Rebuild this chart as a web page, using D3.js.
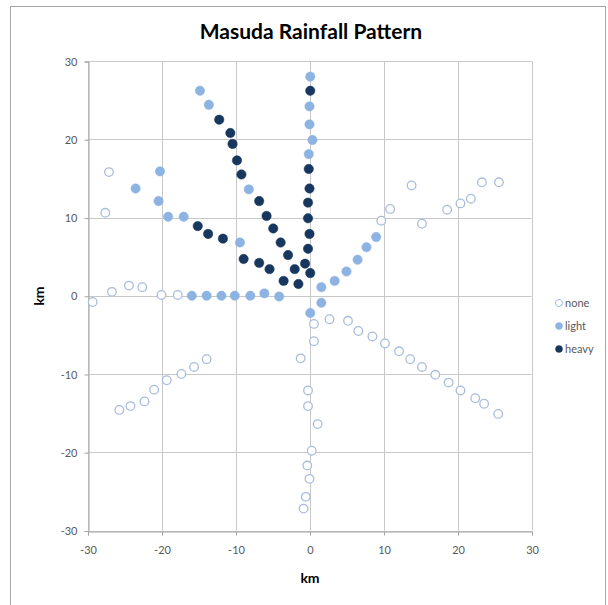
<!DOCTYPE html>
<html>
<head>
<meta charset="utf-8">
<script src="https://cdn.jsdelivr.net/npm/d3@7"></script>
<style>
  html, body { margin: 0; padding: 0; background: #fff; }
  svg { display: block; }
  text { font-family: Lato, "Open Sans", sans-serif; }
</style>
</head>
<body>
<svg id="chart" width="608" height="605"></svg>
<script>
// ---- data ----
const seriesNames = ["none", "light", "heavy"];
const tickValues = [-30, -20, -10, 0, 10, 20, 30];
const tickLabels = ["-30", "-20", "-10", "0", "10", "20", "30"];

const noneX = [-27.1, -27.6,
  -29.3, -26.7, -24.4, -22.6, -20.0, -17.8,
  9.7, 10.9, 13.8, 15.2, 18.6, 20.4, 21.8, 23.3, 25.6,
  0.6, 0.6, -1.2, -0.2, -0.2, 1.1, 0.3, -0.3, 0.0, -0.5, -0.8,
  -13.9, -15.6, -17.3, -19.3, -21.0, -22.3, -24.2, -25.7,
  2.7, 5.2, 6.6, 8.5, 10.2, 12.1, 13.6, 15.2, 17.0, 18.8, 20.4, 22.4, 23.6, 25.5];
const noneY = [15.8, 10.6,
  -0.8, 0.5, 1.3, 1.1, 0.1, 0.1,
  9.6, 11.1, 14.1, 9.2, 11.0, 11.8, 12.4, 14.5, 14.5,
  -3.6, -5.8, -8.0, -12.1, -14.1, -16.4, -19.8, -21.7, -23.4, -25.7, -27.2,
  -8.1, -9.1, -10.0, -10.8, -12.0, -13.5, -14.1, -14.6,
  -3.0, -3.2, -4.5, -5.2, -6.1, -7.1, -8.1, -9.1, -10.1, -11.1, -12.1, -13.1, -13.8, -15.1];

const lightX = [-14.8, -13.6, -20.2, -23.5, -20.4, -19.1, -17.0, -8.2, -9.4,
  -15.9, -13.9, -11.9, -10.1, -8.0, -6.1, -4.1,
  0.1, 0.0, 0.0, 0.4, -0.1,
  1.6, 3.4, 5.0, 6.5, 7.7, 9.0, 1.6, 0.1];
const lightY = [26.2, 24.4, 15.9, 13.7, 12.1, 10.1, 10.1, 13.6, 6.8,
  0.0, 0.0, 0.0, 0.0, 0.0, 0.3, -0.1,
  28.0, 24.2, 21.9, 19.9, 18.1,
  1.1, 1.9, 3.1, 4.6, 6.2, 7.5, -0.9, -2.2];

const heavyX = [0.1, -0.1, 0.0, -0.2, -0.2, 0.0, -0.2, -0.6, 0.1,
  -12.2, -10.7, -10.4, -9.8, -9.2, -6.8, -5.8, -4.9, -3.9, -2.9, -2.0, -1.5,
  -15.1, -13.7, -11.7, -8.9, -6.8, -5.4, -3.5];
const heavyY = [26.2, 16.2, 13.7, 11.9, 9.9, 7.9, 6.0, 4.1, 2.9,
  22.5, 20.8, 19.4, 17.3, 15.5, 12.1, 10.2, 8.6, 6.8, 5.2, 3.4, 1.5,
  8.9, 7.9, 7.3, 4.7, 4.2, 3.4, 1.9];

// ---- styles ----
const styles = {
  none:  { fill: "#ffffff", stroke: "#a9bcdc" },
  light: { fill: "#8db3e2", stroke: "#8db3e2" },
  heavy: { fill: "#17375e", stroke: "#17375e" }
};

const svg = d3.select("#chart");

// outer chart border
svg.append("rect").attr("x", 10.5).attr("y", 6.5).attr("width", 595).attr("height", 620)
  .attr("fill", "#fff").attr("stroke", "#a6a6a6").attr("stroke-width", 1);

const plot = { left: 87.5, right: 531.5, top: 61, bottom: 530.5 };
const x = d3.scaleLinear().domain([-30, 30]).range([plot.left, plot.right]);
const y = d3.scaleLinear().domain([-30, 30]).range([plot.bottom, plot.top]);
const fmt = d => tickLabels[tickValues.indexOf(d)];

// gridlines
const grid = svg.append("g");
grid.selectAll("line.v").data(tickValues).join("line")
  .attr("x1", d => Math.round(x(d)) + 0.5).attr("x2", d => Math.round(x(d)) + 0.5)
  .attr("y1", plot.top).attr("y2", plot.bottom)
  .attr("stroke", "#c8c8c8").attr("stroke-width", 1);
grid.selectAll("line.h").data(tickValues).join("line")
  .attr("y1", d => Math.round(y(d)) + 0.5).attr("y2", d => Math.round(y(d)) + 0.5)
  .attr("x1", plot.left).attr("x2", plot.right)
  .attr("stroke", "#c8c8c8").attr("stroke-width", 1);

// axes
const xAxis = svg.append("g").attr("transform", `translate(0.5,${Math.round(y(-30)) + 0.5})`)
  .call(d3.axisBottom(x).tickValues(tickValues).tickFormat(fmt).tickSize(4).tickPadding(11));
const yAxis = svg.append("g").attr("transform", `translate(${Math.round(x(-30)) + 0.5},0.5)`)
  .call(d3.axisLeft(y).tickValues(tickValues).tickFormat(fmt).tickSize(4).tickPadding(7));
[xAxis, yAxis].forEach(a => {
  a.select(".domain").attr("stroke", "#a6a6a6");
  a.selectAll(".tick line").attr("stroke", "#a6a6a6");
  a.selectAll(".tick text").attr("fill", "#595959").style("font-size", "11px")
    .style("font-family", "Lato, sans-serif");
});

// points
const series = [
  { name: "none", xs: noneX, ys: noneY },
  { name: "light", xs: lightX, ys: lightY },
  { name: "heavy", xs: heavyX, ys: heavyY }
];
series.forEach(s => {
  const pts = s.xs.map((v, i) => [v, s.ys[i]]);
  svg.append("g").selectAll("circle").data(pts).join("circle")
    .attr("cx", d => x(d[0])).attr("cy", d => y(d[1]))
    .attr("r", s.name === "none" ? 4.3 : 4.7)
    .attr("fill", styles[s.name].fill)
    .attr("stroke", styles[s.name].stroke)
    .attr("stroke-width", s.name === "none" ? 1.3 : 0.5);
});

// title
svg.append("text").attr("x", 311).attr("y", 39).attr("text-anchor", "middle")
  .style("font-size", "21px").style("font-weight", "bold").attr("fill", "#000")
  .text("Masuda Rainfall Pattern");

// axis titles
svg.append("text").attr("x", 310).attr("y", 583).attr("text-anchor", "middle")
  .style("font-size", "14px").style("font-weight", "bold").attr("fill", "#000").text("km");
svg.append("text").attr("transform", "translate(44,296) rotate(-90)").attr("text-anchor", "middle")
  .style("font-size", "14px").style("font-weight", "bold").attr("fill", "#000").text("km");

// legend
const legend = svg.append("g");
const legendY = d3.scalePoint().domain(seriesNames).range([303, 349]);
seriesNames.forEach(n => {
  legend.append("circle").attr("cx", 559).attr("cy", legendY(n)).attr("r", 3.5)
    .attr("fill", styles[n].fill).attr("stroke", styles[n].stroke)
    .attr("stroke-width", n === "none" ? 1 : 0.5);
  legend.append("text").attr("x", 565).attr("y", legendY(n) + 4)
    .style("font-size", "11px").attr("fill", "#595959").text(n);
});
</script>
</body>
</html>
